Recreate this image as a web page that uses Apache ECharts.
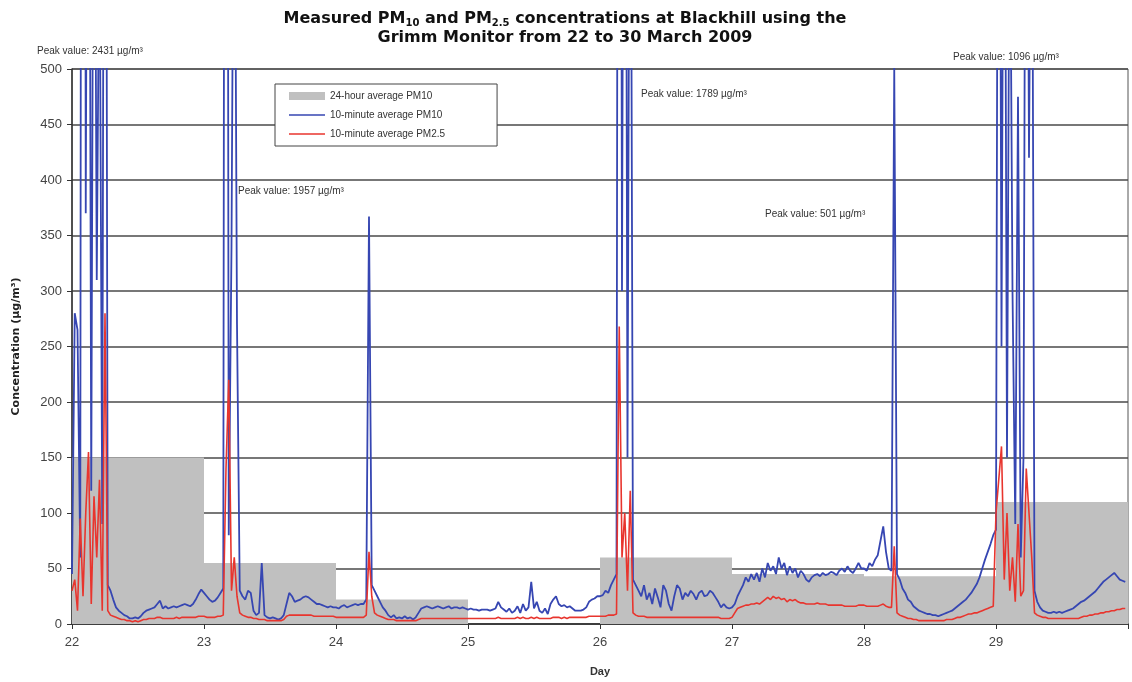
<!DOCTYPE html>
<html>
<head>
<meta charset="utf-8">
<script src="https://cdn.jsdelivr.net/npm/echarts@6/dist/echarts.min.js"></script>
<style>
html,body{margin:0;padding:0;background:#fff;}
#chart{width:1132px;height:682px;}
</style>
</head>
<body>
<div id="chart"></div>
<script>
// Days (x axis) and tick labels
const days = [22, 23, 24, 25, 26, 27, 28, 29];
const xTickLabels = ['22', '23', '24', '25', '26', '27', '28', '29'];
const stepsPerDay = 48; // 30-minute readings

// 24-hour average PM10 (step boundaries 22..30)
const avgDays = [22, 23, 24, 25, 26, 27, 28, 29, 30];
const avg24PM10 = [150, 55, 22, 0, 60, 45, 43, 110, 110];

// 10-minute average PM10 (sampled every 30 min), one array per day
const pm10Day22 = [45,280,265,60,2431,370,1100,120,900,310,650,90,1300,35,30,22,15,12,10,8,7,5,5,6,5,7,10,12,13,14,15,18,21,14,16,14,15,16,15,16,17,18,17,16,18,22,27,31];
const pm10Day23 = [28,25,22,20,21,24,28,32,1957,80,340,800,270,30,25,22,30,28,12,8,10,55,8,6,5,6,5,4,5,8,18,28,25,20,21,22,24,25,24,22,20,18,18,17,16,15,16,15];
const pm10Day24 = [15,14,16,17,15,16,17,18,17,18,18,22,367,35,30,25,20,15,12,8,6,8,5,6,5,7,5,6,4,6,10,14,15,16,15,14,15,16,15,14,15,16,14,15,15,14,15,14];
const pm10Day25 = [13,14,13,13,12,13,13,13,12,13,14,20,15,13,11,14,10,12,16,10,18,12,15,38,14,20,12,10,14,9,18,22,25,18,16,17,15,16,14,12,12,12,13,15,20,22,23,25];
const pm10Day26 = [25,26,30,28,35,40,45,1789,300,1200,150,900,40,35,30,25,35,22,28,18,32,24,15,35,30,18,12,25,35,32,22,28,25,30,27,22,28,30,25,26,30,28,24,20,15,18,15,14];
const pm10Day27 = [15,18,25,30,35,42,38,45,40,46,38,50,42,55,48,52,45,60,50,55,44,52,46,50,42,48,45,40,38,42,44,45,43,46,44,45,47,46,44,48,50,47,52,48,46,50,55,50];
const pm10Day28 = [50,48,55,52,58,62,75,88,65,50,48,501,45,40,32,28,22,20,16,14,12,11,10,9,9,8,8,7,8,9,10,11,12,14,16,18,20,22,25,28,32,36,42,50,58,65,72,80];
const pm10Day29 = [85,1096,250,900,150,700,300,90,475,60,150,1000,420,800,30,20,15,12,11,10,10,11,10,11,10,11,12,13,14,16,18,20,21,23,25,27,29,32,35,38,40,42,44,46,43,40,39,38];

// 10-minute average PM2.5 (sampled every 30 min), one array per day
const pm25Day22 = [30,40,12,95,25,100,155,18,115,60,130,12,280,12,8,7,6,5,4,4,3,3,2,3,2,3,4,4,5,5,5,6,6,5,5,5,5,5,6,5,6,6,6,6,6,6,7,7];
const pm25Day23 = [7,6,6,6,6,7,7,8,140,220,30,60,25,10,8,7,6,6,5,5,4,4,4,3,3,3,3,3,3,4,7,8,8,8,8,8,8,8,8,8,7,7,7,7,7,7,7,7];
const pm25Day24 = [6,6,6,6,6,6,6,6,6,6,6,8,65,25,10,8,7,6,5,4,4,4,3,3,3,3,3,3,3,3,4,5,5,5,5,5,5,5,5,5,5,5,5,5,5,5,5,5];
const pm25Day25 = [5,5,5,5,5,5,5,5,5,5,5,6,5,5,5,5,5,5,6,5,6,5,5,6,5,6,5,5,5,5,5,6,6,6,5,6,5,6,6,6,6,6,6,6,7,7,7,7];
const pm25Day26 = [7,7,7,8,8,8,9,268,60,100,30,120,10,8,7,7,7,6,6,6,6,6,6,6,6,6,6,6,6,6,6,6,6,6,6,6,6,6,6,6,6,6,6,6,5,5,5,5];
const pm25Day27 = [6,10,14,15,16,17,17,18,18,19,18,20,22,24,22,25,23,24,22,23,20,22,21,22,20,19,19,18,18,18,18,19,18,18,18,17,17,17,17,17,17,16,16,16,16,16,17,17];
const pm25Day28 = [17,16,16,16,16,16,17,18,16,15,15,70,10,8,7,6,5,5,4,4,3,3,3,3,3,3,3,3,3,3,4,4,4,5,6,6,7,8,9,9,10,10,11,12,13,14,15,16];
const pm25Day29 = [100,130,160,40,100,30,60,20,90,25,30,140,100,60,10,8,7,6,6,5,5,5,5,5,5,5,5,5,5,5,5,6,7,7,8,8,9,9,10,10,11,11,12,12,13,13,14,14];

// Peak value annotations
const peakLabels = ['Peak value: 2431 µg/m³', 'Peak value: 1957 µg/m³', 'Peak value: 1789 µg/m³', 'Peak value: 501 µg/m³', 'Peak value: 1096 µg/m³'];

const pm10ByDay = [pm10Day22, pm10Day23, pm10Day24, pm10Day25, pm10Day26, pm10Day27, pm10Day28, pm10Day29];
const pm25ByDay = [pm25Day22, pm25Day23, pm25Day24, pm25Day25, pm25Day26, pm25Day27, pm25Day28, pm25Day29];

function buildSeries(byDay) {
  const out = [];
  days.forEach((d, k) => {
    byDay[k].forEach((v, i) => out.push([d + i / stepsPerDay, v]));
  });
  return out;
}
const pm10Data = buildSeries(pm10ByDay);
const pm25Data = buildSeries(pm25ByDay);
const avgData = avgDays.map((d, i) => [d, avg24PM10[i]]);

const chart = echarts.init(document.getElementById('chart'), null, {renderer: 'canvas'});
const FONT = 'Liberation Sans, Arial, sans-serif';
const WIDE = 'DejaVu Sans, sans-serif';

const peakPos = [[37, 52], [238, 192], [641, 95], [765, 215], [953, 58]];

chart.setOption({
  animation: false,
  backgroundColor: '#ffffff',
  title: {
    text: 'Measured PM{sub|10} and PM{sub|2.5} concentrations at Blackhill using the\nGrimm Monitor from 22 to 30 March 2009',
    left: 560,
    textAlign: 'center',
    top: 4,
    textStyle: {
      fontFamily: WIDE,
      fontSize: 16,
      fontWeight: 'bold',
      color: '#111',
      lineHeight: 19,
      rich: {
        sub: {fontFamily: WIDE, fontSize: 10, fontWeight: 'bold', color: '#111', verticalAlign: 'bottom', lineHeight: 10}
      }
    }
  },
  legend: {
    orient: 'vertical',
    left: 275,
    top: 84,
    padding: [7, 52, 7, 14],
    itemGap: 9,
    itemWidth: 36,
    itemHeight: 14,
    borderColor: '#444',
    borderWidth: 1,
    backgroundColor: '#fff',
    textStyle: {fontFamily: FONT, fontSize: 10, color: '#333'},
    data: [
      {name: '24-hour average PM10', icon: 'path://M0,0H36V8H0Z'},
      {name: '10-minute average PM10', icon: 'path://M0,0H36V1.5H0Z'},
      {name: '10-minute average PM2.5', icon: 'path://M0,0H36V1.5H0Z'}
    ]
  },
  grid: {
    left: 72, right: 4, top: 69, bottom: 57,
    show: true, borderColor: '#555', borderWidth: 1, backgroundColor: 'transparent'
  },
  xAxis: {
    type: 'value',
    min: 22, max: 30, interval: 1,
    name: 'Day',
    nameLocation: 'middle',
    nameGap: 42,
    nameTextStyle: {fontFamily: FONT, fontSize: 11, fontWeight: 'bold', color: '#333'},
    axisLine: {show: true, lineStyle: {color: '#333', width: 1.5}},
    axisTick: {show: true, length: 5, lineStyle: {color: '#333'}},
    axisLabel: {
      fontFamily: FONT, fontSize: 13, color: '#444', margin: 12,
      formatter: v => { const i = days.indexOf(v); return i >= 0 ? xTickLabels[i] : ''; }
    },
    splitLine: {show: false}
  },
  yAxis: {
    type: 'value',
    min: 0, max: 500, interval: 50,
    name: 'Concentration (µg/m³)',
    nameLocation: 'middle',
    nameGap: 50,
    nameTextStyle: {fontFamily: WIDE, fontSize: 11, fontWeight: 'bold', color: '#222'},
    axisLine: {show: true, lineStyle: {color: '#333', width: 1.5}},
    axisTick: {show: true, length: 5, lineStyle: {color: '#333'}},
    axisLabel: {fontFamily: FONT, fontSize: 13, color: '#444', margin: 10},
    splitLine: {show: true, lineStyle: {color: '#4a4a4a', width: 1.5}}
  },
  graphic: peakLabels.map((t, i) => ({
    type: 'text', left: peakPos[i][0], top: peakPos[i][1] - 6, z: 100,
    style: {text: t, fontFamily: FONT, fontSize: 10, fill: '#333'}
  })),
  series: [
    {
      name: '24-hour average PM10',
      type: 'line',
      step: 'end',
      data: avgData,
      showSymbol: false,
      lineStyle: {width: 0, color: '#c0c0c0'},
      itemStyle: {color: '#c0c0c0'},
      areaStyle: {color: '#c0c0c0', opacity: 1},
      z: 1
    },
    {
      name: '10-minute average PM10',
      type: 'line',
      data: pm10Data,
      showSymbol: false,
      clip: true,
      lineStyle: {width: 1.8, color: '#3646b2'},
      itemStyle: {color: '#3646b2'},
      z: 2
    },
    {
      name: '10-minute average PM2.5',
      type: 'line',
      data: pm25Data,
      showSymbol: false,
      clip: true,
      lineStyle: {width: 1.6, color: '#e8352e'},
      itemStyle: {color: '#e8352e'},
      z: 3
    }
  ]
});
</script>
</body>
</html>
